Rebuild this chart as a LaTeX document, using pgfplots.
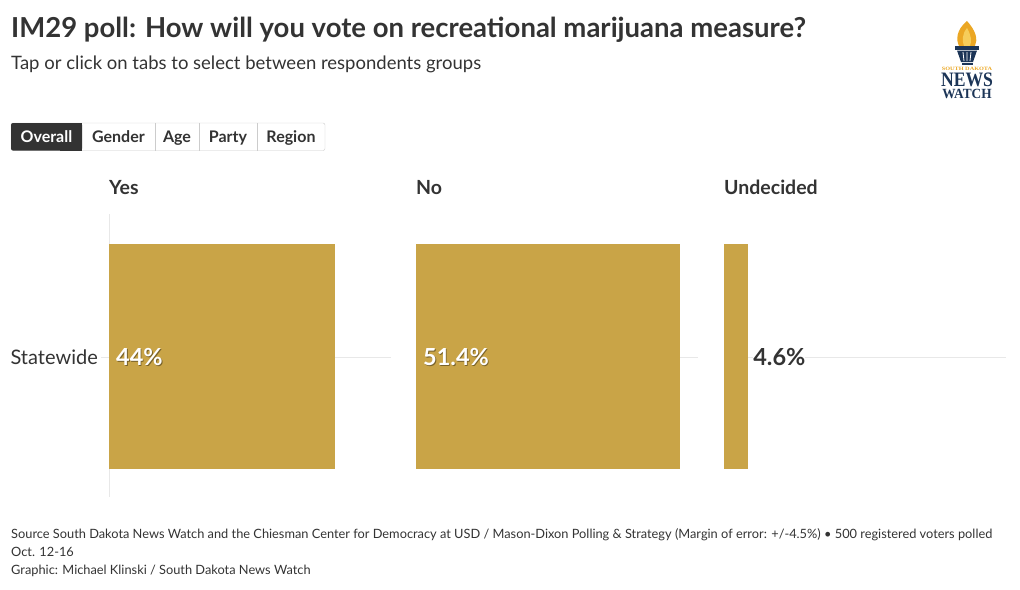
\documentclass[border=0pt]{standalone}
\usepackage{fontspec}
\setmainfont{Lato}
\newfontfamily\logofont{Liberation Serif}
\usepackage{pgfplots}
\pgfplotsset{compat=1.18}
\usetikzlibrary{calc}
\definecolor{bargold}{HTML}{C9A447}
\definecolor{txt}{HTML}{333333}
\definecolor{gridc}{HTML}{E8E8E8}
\definecolor{tabborder}{HTML}{CCCCCC}
\definecolor{navy}{HTML}{1C3557}
\definecolor{flame}{HTML}{EBA724}
\definecolor{flamelight}{HTML}{F6CD5A}

\pgfplotsset{
  panel/.style={
    xbar, scale only axis, width=282pt, height=283pt,
    xmin=0, xmax=55, ymin=-0.495, ymax=0.505,
    bar width=225pt,
    axis x line*=bottom, x axis line style={draw=none},
    axis y line*=left,
    xtick=\empty, ytick={0},
    ymajorgrids=true, grid style={gridc, line width=0.8pt},
    clip=false,
  },
}

\begin{document}
\begin{tikzpicture}[x=1pt,y=1pt]
\useasboundingbox (0,0) rectangle (1020,-589);

% Title and subtitle
\node[anchor=base west, inner sep=0, text=txt, font=\fontsize{27.5}{32}\selectfont\bfseries]
  at (11,-37) {IM29 poll: How will you vote on recreational marijuana measure?};
\node[anchor=base west, inner sep=0, text=txt, font=\fontsize{18.5}{22}\selectfont]
  at (11,-69) {Tap or click on tabs to select between respondents groups};

% Logo
\fill[flame] (967,-21) .. controls (956,-30) and (956,-40) .. (959,-46) -- (975,-46) .. controls (978,-39) and (976,-31) .. cycle;
\fill[flamelight] (967,-28) .. controls (962,-34) and (962,-41) .. (964,-46) -- (970,-46) .. controls (972,-41) and (971,-35) .. cycle;
\fill[navy] (955,-46) rectangle (979,-49.5);
\fill[navy] (957,-50.5) -- (977,-50.5) -- (973,-62) -- (961,-62) -- cycle;
\draw[white, line width=0.8pt] (963,-52) -- (964,-61) (967,-52) -- (967,-61) (971,-52) -- (970,-61);
\fill[navy] (961.5,-62.5) rectangle (972.5,-64.5);
\node[anchor=base, inner sep=0, text height=3.5pt, text depth=0pt, text=flame, xscale=1.25, font=\logofont\fontsize{5}{6}\selectfont\bfseries] at (967,-70) {SOUTH DAKOTA};
\node[anchor=base, inner sep=0, text height=13.5pt, text depth=0pt, text=navy, xscale=0.86, font=\logofont\fontsize{20.5}{22}\selectfont\bfseries] at (967,-86) {NEWS};
\node[anchor=base, inner sep=0, text height=9.3pt, text depth=0pt, text=navy, xscale=0.95, font=\logofont\fontsize{14}{15}\selectfont\bfseries] at (967,-98.5) {WATCH};

% Tabs
\begin{scope}[font=\fontsize{16}{19}\selectfont\bfseries]
\draw[tabborder, rounded corners=2pt, fill=white] (11,-123) rectangle (325,-150.5);
\fill[txt, rounded corners=2pt] (11,-123) rectangle (82,-150.5);
\fill[txt] (60,-123) rectangle (82,-150.5);
\draw[tabborder] (155,-123) -- (155,-150.5) (199,-123) -- (199,-150.5) (257,-123) -- (257,-150.5);
\node[anchor=base, inner sep=0, text=white] at (46.5,-142) {Overall};
\node[anchor=base, inner sep=0, text=txt] at (118.5,-142) {Gender};
\node[anchor=base, inner sep=0, text=txt] at (177,-142) {Age};
\node[anchor=base, inner sep=0, text=txt] at (228,-142) {Party};
\node[anchor=base, inner sep=0, text=txt] at (291,-142) {Region};
\end{scope}

% Panel titles
\begin{scope}[font=\fontsize{19.5}{22}\selectfont\bfseries, text=txt]
\node[anchor=base west, inner sep=0] at (109,-194) {Yes};
\node[anchor=base west, inner sep=0] at (416,-194) {No};
\node[anchor=base west, inner sep=0] at (724,-194) {Undecided};
\end{scope}

% Panel 1: Yes
\begin{axis}[panel, at={(109pt,-497pt)}, anchor=south west,
  y axis line style={draw=gridc, line width=0.8pt},
  yticklabels={Statewide},
  yticklabel style={text=txt, font=\fontsize{20}{23}\selectfont, inner sep=3pt},
  major tick length=8pt, tick align=outside, ytick style={draw=gridc, line width=0.8pt}]
\addplot[fill=bargold, draw=none] coordinates {(44,0)};
\node[anchor=west, inner sep=0, text=black!50!bargold, opacity=0.8, font=\fontsize{23.5}{26}\selectfont\bfseries] at ($(axis cs:0,0)+(7.8pt,-0.8pt)$) {44\%};
\node[anchor=west, inner sep=0, text=white, font=\fontsize{23.5}{26}\selectfont\bfseries] at ($(axis cs:0,0)+(7pt,0pt)$) {44\%};
\end{axis}

% Panel 2: No
\begin{axis}[panel, at={(416pt,-497pt)}, anchor=south west,
  y axis line style={draw=none}, yticklabels={}, major tick length=0pt]
\addplot[fill=bargold, draw=none] coordinates {(51.4,0)};
\node[anchor=west, inner sep=0, text=black!50!bargold, opacity=0.8, font=\fontsize{23.5}{26}\selectfont\bfseries] at ($(axis cs:0,0)+(7.8pt,-0.8pt)$) {51.4\%};
\node[anchor=west, inner sep=0, text=white, font=\fontsize{23.5}{26}\selectfont\bfseries] at ($(axis cs:0,0)+(7pt,0pt)$) {51.4\%};
\end{axis}

% Panel 3: Undecided
\begin{axis}[panel, at={(724pt,-497pt)}, anchor=south west,
  y axis line style={draw=none}, yticklabels={}, major tick length=0pt,
  nodes near coords={\pgfmathprintnumber[fixed, precision=1]{\pgfplotspointmeta}\%},
  /pgf/number format/assume math mode=true,
  nodes near coords style={anchor=west, inner sep=0, xshift=5.5pt, fill=white, text=txt, font=\fontsize{23.5}{26}\selectfont\bfseries}]
\addplot[fill=bargold, draw=none] coordinates {(4.6,0)};
\end{axis}

% Footer
\begin{scope}[font=\fontsize{12.8}{16}\selectfont, text=txt]
\node[anchor=base west, inner sep=0] at (11,-538) {Source South Dakota News Watch and the Chiesman Center for Democracy at USD / Mason-Dixon Polling \& Strategy (Margin of error: +/-4.5\%) • 500 registered voters polled};
\node[anchor=base west, inner sep=0] at (11,-556) {Oct. 12-16};
\node[anchor=base west, inner sep=0] at (11,-574) {Graphic: Michael Klinski / South Dakota News Watch};
\end{scope}
\end{tikzpicture}
\end{document}
